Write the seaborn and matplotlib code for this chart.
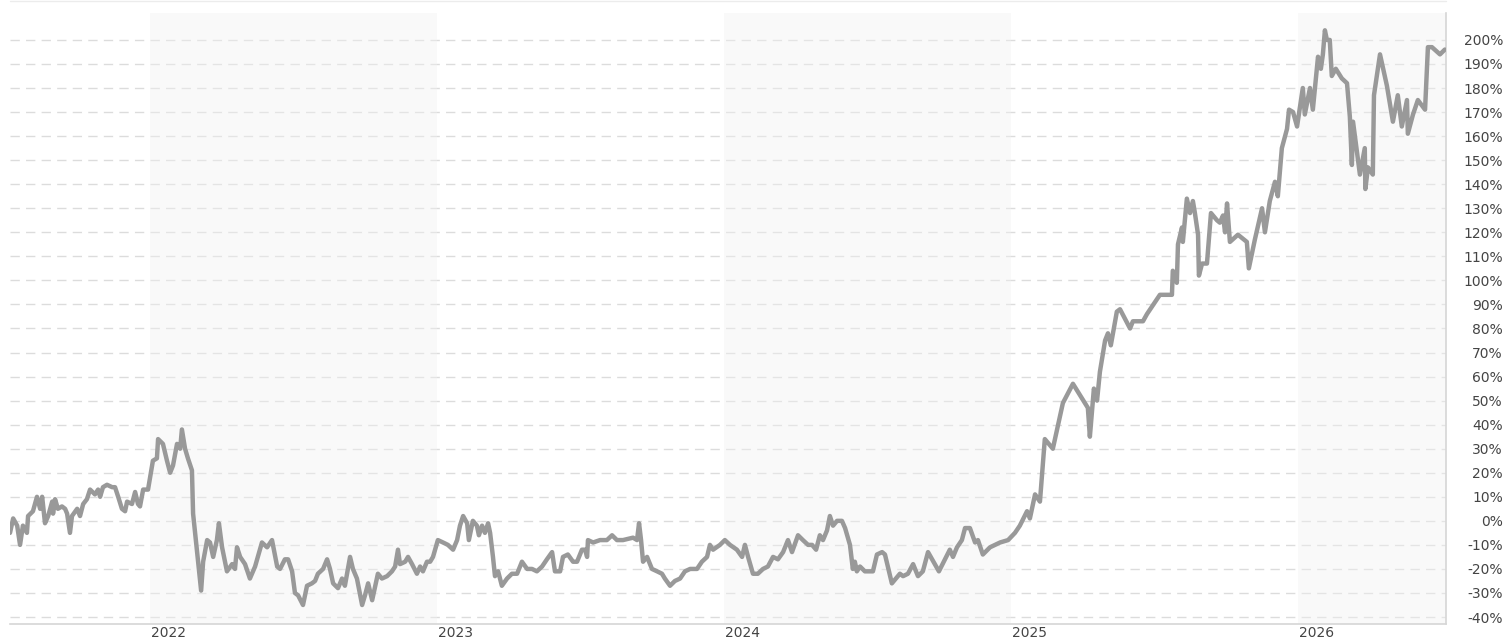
import numpy as np
import pandas as pd
import matplotlib
matplotlib.use("Agg")
import matplotlib.pyplot as plt
import matplotlib.transforms as mtransforms
from matplotlib.lines import Line2D
import seaborn as sns

# ---------------- data (decimal year, % change) ----------------
years_a = [2021.512, 2021.523, 2021.537, 2021.547, 2021.557, 2021.571, 2021.575, 2021.592, 2021.606, 2021.617,
           2021.624, 2021.634, 2021.645, 2021.659, 2021.662, 2021.669, 2021.679, 2021.693, 2021.704, 2021.711,
           2021.721, 2021.728, 2021.746, 2021.756, 2021.767, 2021.780, 2021.791, 2021.808, 2021.819, 2021.826,
           2021.836, 2021.850, 2021.868, 2021.878, 2021.889, 2021.902, 2021.913, 2021.920, 2021.937, 2021.948,
           2021.958, 2021.965, 2021.976, 2021.993, 2022.000, 2022.010, 2022.024, 2022.028, 2022.045, 2022.059,
           2022.070, 2022.080, 2022.094, 2022.105, 2022.111, 2022.122, 2022.132, 2022.146, 2022.150, 2022.164,
           2022.178, 2022.185, 2022.199, 2022.209, 2022.220, 2022.233, 2022.240, 2022.251, 2022.268, 2022.286,
           2022.296, 2022.303, 2022.314, 2022.331, 2022.348, 2022.366, 2022.390, 2022.408, 2022.425, 2022.443]
values_a = [-5, 1, -2, -10, -2, -5, 2, 4, 10, 5,
            10, -1, 2, 8, 3, 9, 5, 6, 5, 3,
            -5, 2, 5, 2, 7, 9, 13, 11, 13, 10,
            14, 15, 14, 14, 10, 5, 4, 8, 7, 12,
            7, 6, 13, 13, 18, 25, 26, 34, 32, 25,
            20, 23, 32, 30, 38, 30, 26, 21, 3, -13,
            -29, -17, -8, -9, -15, -8, -1, -11, -21, -18,
            -20, -11, -15, -18, -24, -19, -9, -11, -8, -19]

years_b = [2022.453, 2022.470, 2022.481, 2022.495, 2022.505, 2022.516, 2022.533, 2022.547, 2022.564, 2022.575,
           2022.585, 2022.603, 2022.617, 2022.627, 2022.638, 2022.655, 2022.669, 2022.679, 2022.697, 2022.707,
           2022.721, 2022.739, 2022.749, 2022.760, 2022.774, 2022.794, 2022.808, 2022.826, 2022.843, 2022.854,
           2022.864, 2022.871, 2022.889, 2022.899, 2022.913, 2022.930, 2022.941, 2022.951, 2022.965, 2022.976,
           2022.986, 2023.003, 2023.021, 2023.038, 2023.056, 2023.070, 2023.080, 2023.091, 2023.105, 2023.111,
           2023.125, 2023.139, 2023.146, 2023.157, 2023.167, 2023.178, 2023.185, 2023.195, 2023.202, 2023.213,
           2023.226, 2023.244, 2023.261, 2023.279, 2023.296, 2023.314, 2023.331, 2023.348, 2023.366, 2023.383,
           2023.401, 2023.411, 2023.429, 2023.439, 2023.456, 2023.474]
values_b = [-20, -16, -16, -21, -30, -31, -35, -27, -26, -25,
            -22, -20, -16, -20, -26, -28, -24, -27, -15, -20,
            -24, -35, -31, -26, -33, -22, -24, -23, -21, -19,
            -12, -18, -17, -15, -18, -22, -19, -21, -17, -17,
            -15, -8, -9, -10, -12, -8, -2, 2, -1, -8,
            0, -2, -6, -2, -5, -1, -5, -15, -23, -21,
            -27, -24, -22, -22, -17, -20, -20, -21, -19, -16,
            -13, -21, -21, -15, -14, -17]

years_c = [2023.488, 2023.505, 2023.516, 2023.523, 2023.526, 2023.544, 2023.568, 2023.592, 2023.610, 2023.627,
           2023.648, 2023.683, 2023.697, 2023.704, 2023.711, 2023.718, 2023.732, 2023.749, 2023.767, 2023.784,
           2023.794, 2023.812, 2023.829, 2023.847, 2023.864, 2023.882, 2023.906, 2023.923, 2023.941, 2023.951,
           2023.962, 2023.986, 2024.003, 2024.021, 2024.045, 2024.063, 2024.073, 2024.084, 2024.101, 2024.118,
           2024.136, 2024.153, 2024.171, 2024.188, 2024.206, 2024.223, 2024.237, 2024.258, 2024.275, 2024.293,
           2024.307, 2024.321, 2024.334, 2024.345, 2024.359, 2024.369, 2024.380, 2024.394, 2024.411, 2024.422,
           2024.439, 2024.449, 2024.456, 2024.463]
values_c = [-17, -12, -12, -15, -8, -9, -8, -8, -6, -8,
            -8, -7, -8, -1, -8, -17, -15, -20, -21, -22,
            -24, -27, -25, -24, -21, -20, -20, -17, -15, -10,
            -12, -10, -8, -10, -12, -15, -10, -15, -22, -22,
            -20, -19, -15, -16, -13, -8, -13, -6, -8, -10,
            -10, -12, -6, -8, -4, 2, -2, 0, 0, -3,
            -10, -20, -17, -21]

years_d = [2024.474, 2024.491, 2024.519, 2024.533, 2024.551, 2024.561, 2024.571, 2024.585, 2024.613, 2024.624,
           2024.641, 2024.659, 2024.676, 2024.693, 2024.711, 2024.735, 2024.749, 2024.770, 2024.787, 2024.798,
           2024.812, 2024.829, 2024.840, 2024.857, 2024.875, 2024.885, 2024.902, 2024.927, 2024.962, 2024.990,
           2025.014, 2025.031, 2025.056, 2025.066, 2025.084, 2025.101]
values_d = [-19, -21, -21, -14, -13, -14, -19, -26, -22, -23,
            -22, -18, -23, -21, -13, -18, -21, -16, -12, -15,
            -11, -8, -3, -3, -9, -8, -14, -11, -9, -8,
            -5, -2, 4, 1, 11, 8]

years_e = [2025.118, 2025.146, 2025.181, 2025.216, 2025.247, 2025.268, 2025.275, 2025.289, 2025.300, 2025.310,
           2025.328, 2025.338, 2025.348, 2025.369, 2025.380, 2025.415, 2025.425, 2025.460, 2025.474, 2025.519,
           2025.561, 2025.564, 2025.578, 2025.582, 2025.596, 2025.599, 2025.613, 2025.624, 2025.634, 2025.641,
           2025.652, 2025.655, 2025.666, 2025.683, 2025.697, 2025.718, 2025.728, 2025.739, 2025.746, 2025.753,
           2025.763, 2025.791, 2025.822, 2025.829]
values_e = [34, 30, 49, 57, 51, 47, 35, 55, 50, 62,
            75, 78, 73, 87, 88, 80, 83, 83, 86, 94,
            94, 104, 99, 115, 122, 116, 134, 128, 133, 128,
            119, 102, 107, 107, 128, 125, 124, 127, 120, 132,
            116, 119, 116, 105]

years_f = [2025.850, 2025.875, 2025.885, 2025.902, 2025.920, 2025.930, 2025.944, 2025.962, 2025.969, 2025.983,
           2025.997, 2026.017, 2026.024, 2026.042, 2026.052, 2026.070, 2026.080, 2026.087, 2026.094, 2026.101,
           2026.111, 2026.118, 2026.132, 2026.153, 2026.171, 2026.181, 2026.188, 2026.192, 2026.206, 2026.216,
           2026.233, 2026.235, 2026.244, 2026.261, 2026.265, 2026.286, 2026.310, 2026.331, 2026.348, 2026.362,
           2026.380, 2026.383, 2026.401, 2026.418, 2026.443, 2026.453, 2026.467, 2026.495, 2026.512]
values_f = [117, 130, 120, 133, 141, 135, 155, 163, 171, 170,
            164, 180, 169, 180, 171, 193, 188, 194, 204, 200,
            200, 185, 188, 184, 182, 168, 148, 166, 153, 144,
            155, 138, 147, 144, 177, 194, 181, 166, 177, 164,
            175, 161, 169, 175, 171, 197, 197, 194, 196]

year_ticks = [2022, 2023, 2024, 2025, 2026]
year_labels = ["2022", "2023", "2024", "2025", "2026"]
shaded_years = [2022, 2024, 2026]
pct_ticks = list(range(-40, 201, 10))
pct_labels = [f"{v}%" for v in pct_ticks]

segments = [(years_a, values_a), (years_b, values_b), (years_c, values_c),
            (years_d, values_d), (years_e, values_e), (years_f, values_f)]
for yy, vv in segments:
    assert len(yy) == len(vv), (len(yy), len(vv))
years = [y for yy, _ in segments for y in yy]
values = [v for _, vv in segments for v in vv]
df = pd.DataFrame({"year": years, "change": values})

# ---------------- style ----------------
sns.set_style("white")
plt.rcParams["font.family"] = ["DejaVu Sans"]

W, H = 1507, 639
fig = plt.figure(figsize=(W / 100, H / 100), dpi=100)
fig.patch.set_facecolor("white")
ax = fig.add_axes([10 / W, 15 / H, 1436 / W, 611 / H])
ax.set_facecolor("white")

for y0 in shaded_years:
    ax.axvspan(y0, y0 + 1, color="#f1f1f1", alpha=0.4, lw=0, zorder=1)

sns.lineplot(data=df, x="year", y="change", ax=ax, color="#999999", linewidth=3.2,
             sort=False, estimator=None, zorder=3)
for ln in ax.get_lines():
    ln.set_solid_joinstyle("round")
    ln.set_solid_capstyle("round")

ax.set_xlim(2021.512, 2026.516)
ax.set_ylim(-42.9, 211.2)

ax.set_yticks(pct_ticks)
ax.set_yticklabels(pct_labels)
ax.yaxis.tick_right()
ax.tick_params(axis="y", length=0, pad=41, labelsize=10, labelcolor="#444444")
for lab in ax.get_yticklabels():
    lab.set_horizontalalignment("right")

ax.set_xticks(year_ticks)
ax.set_xticklabels(year_labels)
ax.tick_params(axis="x", length=0, pad=1.5, labelsize=10, labelcolor="#444444")
offset = mtransforms.ScaledTranslation(1 / 100, 0, fig.dpi_scale_trans)
for lab in ax.get_xticklabels():
    lab.set_horizontalalignment("left")
    lab.set_transform(lab.get_transform() + offset)

ax.set_axisbelow(True)
ax.grid(axis="y", color="#dcdcdc", linewidth=1.0, linestyle=(0, (6.7, 4.5)))
ax.grid(axis="x", visible=False)

for side in ["left", "top"]:
    ax.spines[side].set_visible(False)
for side in ["right", "bottom"]:
    ax.spines[side].set_color("#d6d6d6")
    ax.spines[side].set_linewidth(1.2)

ax.set_xlabel("")
ax.set_ylabel("")
if ax.get_legend() is not None:
    ax.get_legend().remove()

fig.add_artist(Line2D([10 / W, 1446 / W], [1 - 1 / H, 1 - 1 / H], transform=fig.transFigure,
                      color="#ececec", linewidth=1.0))

fig.savefig("out.png", dpi=100)
